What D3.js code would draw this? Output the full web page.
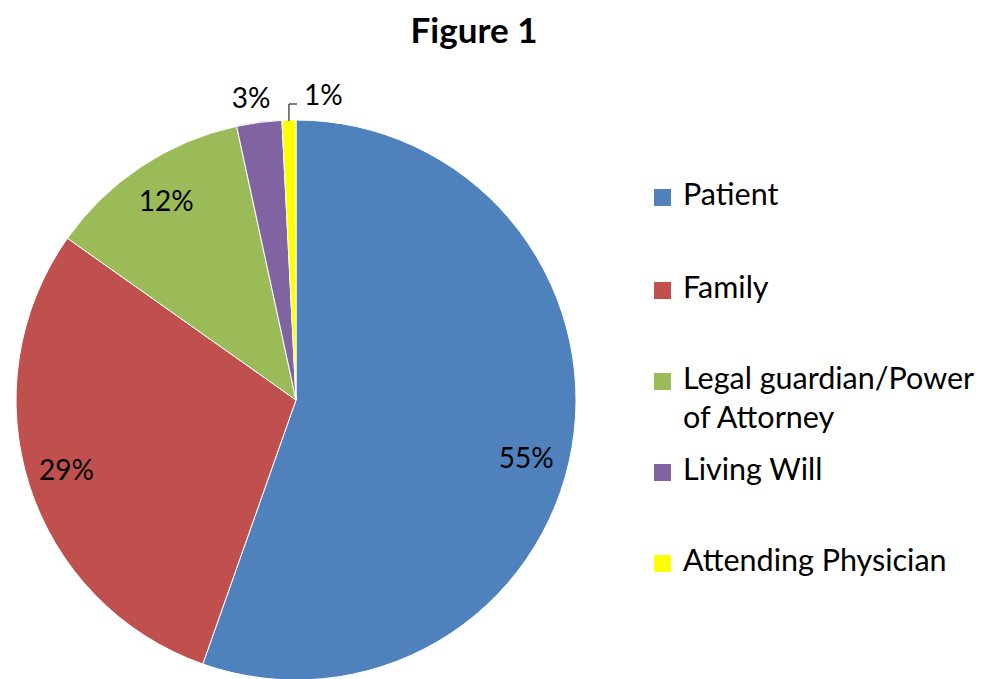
<!DOCTYPE html>
<html><head><meta charset="utf-8">
<script src="https://cdn.jsdelivr.net/npm/d3@7"></script>
<style>body{margin:0;background:#fff}svg{display:block}text{font-family:Lato,"Open Sans",sans-serif}</style>
</head><body>
<svg id="c" width="994" height="679"></svg>
<script>
const categories = ["Patient","Family","Legal guardian/Power of Attorney","Living Will","Attending Physician"];
const legendLines = [["Patient"],["Family"],["Legal guardian/Power","of Attorney"],["Living Will"],["Attending Physician"]];
const values = [55.4, 29.4, 11.8, 2.6, 0.8];
const colors = ["#4F81BD","#C0504D","#9BBB59","#8064A2","#FFFF00"];
const title = "Figure 1";

const svg = d3.select("#c");
const cx = 296, cy = 400, r = 280;
svg.append("text").attr("x",474).attr("y",43).attr("text-anchor","middle")
  .attr("font-size",35).attr("font-weight","bold").text(title);

const pie = d3.pie().sort(null).value(d=>d)(values);
const arc = d3.arc().innerRadius(0).outerRadius(r);
const g = svg.append("g").attr("transform",`translate(${cx},${cy})`);
g.selectAll("path").data(pie).join("path").attr("d",arc)
  .attr("fill",(d,i)=>colors[i]).attr("stroke","#fff").attr("stroke-width",1);

const fmt = v => Math.round(v) + "%";
const labelR = [0.85, 0.86, 0.84, 1.08, 1.085];
const angOff = [5, 0, 0, -1, 6.6].map(v=>v*Math.PI/180);
pie.forEach((d,i)=>{
  const a = (d.startAngle+d.endAngle)/2 + angOff[i];
  const x = Math.sin(a)*r*labelR[i], y = -Math.cos(a)*r*labelR[i];
  if(i===4){
    const lx = Math.sin((d.startAngle+d.endAngle)/2)*r;
    g.append("path").attr("d",`M${lx},${-r+1}V${-r-16}H${1}`).attr("fill","none").attr("stroke","#000").attr("stroke-width",1);
  }
  g.append("text").attr("x",x).attr("y",y).attr("text-anchor","middle").attr("dominant-baseline","middle")
    .attr("font-size",28).attr("fill","#000").text(fmt(values[i]));
});

const ly = [197, 290, 381, 472, 563];
const lg = svg.append("g");
legendLines.forEach((lines,i)=>{
  lg.append("rect").attr("x",654).attr("y",ly[i]-8).attr("width",17).attr("height",17).attr("fill",colors[i]);
  lines.forEach((t,j)=>{
    lg.append("text").attr("x",683).attr("y",ly[i]+j*39).attr("dominant-baseline","middle")
      .attr("font-size",30.5).attr("fill","#000").text(t);
  });
});
</script>
</body></html>
